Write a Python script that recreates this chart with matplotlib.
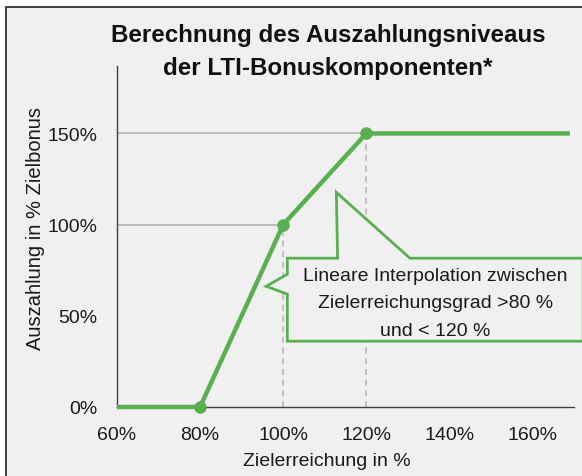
import matplotlib
matplotlib.use("Agg")
import matplotlib.pyplot as plt
from matplotlib.patches import Rectangle, Polygon
from matplotlib.ticker import FuncFormatter

plt.rcParams['font.family'] = ['Liberation Sans', 'DejaVu Sans']

# payout curve (x = Zielerreichung %, y = Auszahlung %)
curve_x = [60, 80, 100, 120, 169]
curve_y = [0, 0, 100, 150, 150]
point_x = [80, 100, 120]
point_y = [0, 100, 150]
x_ticks = [60, 80, 100, 120, 140, 160]
y_ticks = [0, 50, 100, 150]

title = "Berechnung des Auszahlungsniveaus\nder LTI-Bonuskomponenten*"
callout = "Lineare Interpolation zwischen\nZielerreichungsgrad >80 %\nund < 120 %"

green = '#5AAF50'
grid_c = '#b4b4b4'
bg = '#f0f0f0'

fig = plt.figure(figsize=(5.82, 4.77), dpi=100, facecolor='white')
# framed grey panel
frame = Rectangle((6/582, -0.1), 1.2, 1 - 8/477 + 0.1, transform=fig.transFigure,
                  facecolor=bg, edgecolor='#333333', lw=1.3, zorder=-10)
fig.patches.append(frame)

ax = fig.add_axes([117/582, 1 - 408/477, (574 - 117)/582, (408 - 67)/477])
ax.set_zorder(1)
ax.set_facecolor('none')
ax.set_xlim(60, 170)
ax.set_ylim(0, 187)

for s in ['top', 'right']:
    ax.spines[s].set_visible(False)
for s in ['left', 'bottom']:
    ax.spines[s].set_color('#404040')
    ax.spines[s].set_linewidth(1)

# reference lines up to the kink points
ax.hlines(point_y[1:], 60, point_x[1:], color=grid_c, lw=1.2, zorder=1)
ax.vlines(point_x[1:], 0, point_y[1:], color=grid_c, lw=1.1, linestyles=(0, (4, 3)), zorder=1)

ax.plot(curve_x, curve_y, color=green, lw=3.2, solid_capstyle='butt', zorder=3, clip_on=False)
ax.plot(point_x, point_y, 'o', color=green, ms=8, zorder=4, clip_on=False)

ax.set_xticks(x_ticks)
ax.set_yticks(y_ticks)
pct = FuncFormatter(lambda v, p: f"{v:.0f}%")
ax.xaxis.set_major_formatter(pct)
ax.yaxis.set_major_formatter(pct)
ax.tick_params(length=0, labelsize=14, labelcolor='#1a1a1a')
ax.tick_params(axis='x', pad=14)
ax.tick_params(axis='y', pad=14)

ax.set_xlabel("Zielerreichung in %", fontsize=14, color='#1a1a1a', va='center')
ax.xaxis.set_label_coords(0.46, -0.158)
ax.set_ylabel("Auszahlung in % Zielbonus", fontsize=14.5, color='#1a1a1a', va='center')
ax.yaxis.set_label_coords(-0.179, 0.525)

# callout shape with two pointers
shape = [(101, 81.6), (113.1, 81.6), (112.8, 117.7), (130.5, 81.6), (172.2, 81.6),
         (172.2, 36.1), (101, 36.1), (101, 61.9), (95.9, 66.2), (101, 72.8)]
ax.add_patch(Polygon(shape, closed=True, facecolor=bg, edgecolor=green, lw=2,
                     zorder=5, clip_on=False, joinstyle='miter'))
ax.text(136.6, 57.2, callout, ha='center', va='center', fontsize=14, color='#1a1a1a',
        linespacing=1.8, zorder=6)

fig.text(328/582, 1 - 52/477, title, ha='center', va='center', fontsize=17.4,
         fontweight='bold', color='#111111', linespacing=1.6)

fig.savefig("out.png", dpi=100, facecolor='white')
